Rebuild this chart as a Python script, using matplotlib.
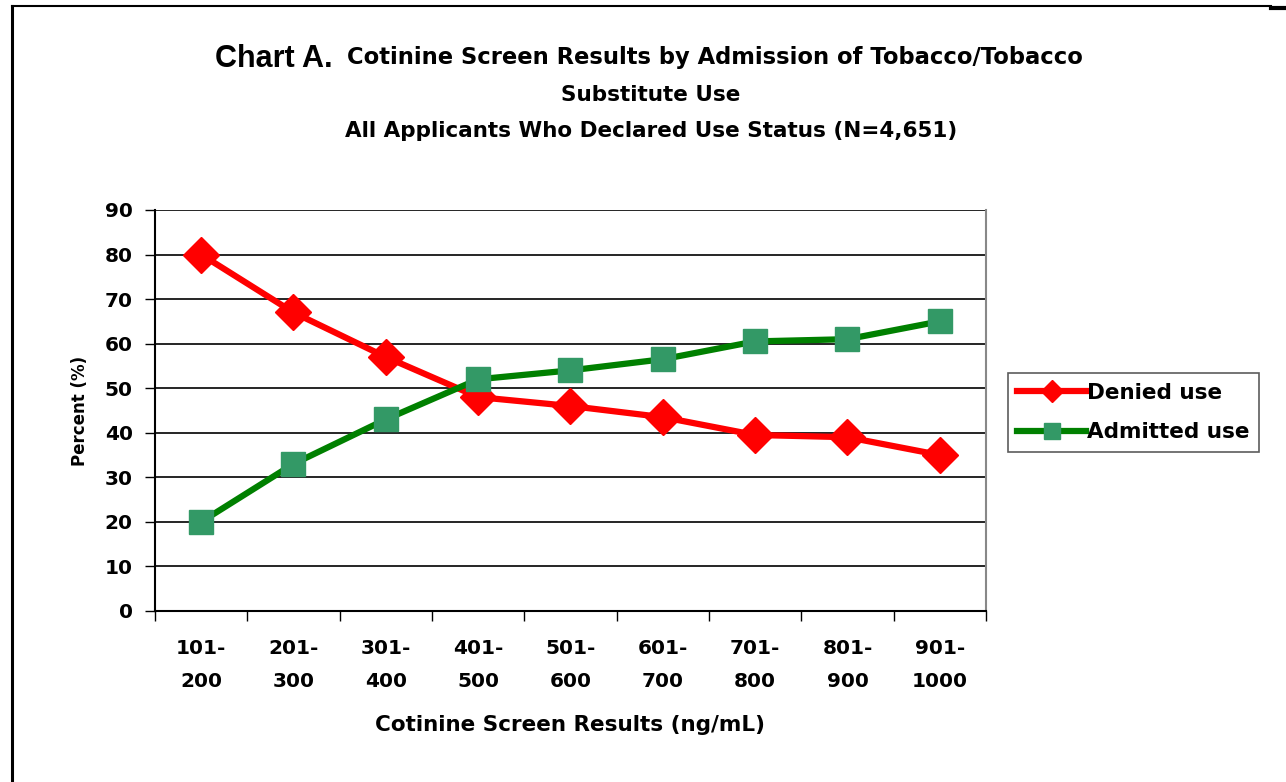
import matplotlib
matplotlib.use("Agg")
import matplotlib.pyplot as plt
from matplotlib.lines import Line2D

plt.rcParams['font.family'] = ['DejaVu Sans']
plt.rcParams['font.weight'] = 'bold'

# data
categories = ['101-\n200', '201-\n300', '301-\n400', '401-\n500', '501-\n600',
              '601-\n700', '701-\n800', '801-\n900', '901-\n1000']
denied = [80, 67, 57, 48, 46, 43.5, 39.5, 39, 35]
admitted = [20, 33, 43, 52, 54, 56.5, 60.5, 61, 65]
yticks = list(range(0, 100, 10))

fig = plt.figure(figsize=(12.86, 7.82), dpi=100)
ax = fig.add_axes([0.1205, 0.2187, 0.6462, 0.5128])

x = list(range(len(categories)))
ax.plot(x, denied, color='#ff0000', lw=4.5, marker='D', ms=18,
        markerfacecolor='#ff0000', markeredgecolor='#ff0000', label='Denied use', zorder=3)
ax.plot(x, admitted, color='#008000', lw=4.5, marker='s', ms=17,
        markerfacecolor='#339966', markeredgecolor='#339966', label='Admitted use', zorder=3)

ax.set_xlim(-0.5, len(categories) - 0.5)
ax.set_ylim(0, 90)
ax.set_yticks(yticks)
ax.set_yticklabels([str(t) for t in yticks], fontsize=14.5, fontweight='bold')
ax.yaxis.grid(True, color='black', lw=1.2)
ax.set_axisbelow(True)

# category ticks between groups, labels at centres
ax.set_xticks([i + 0.5 for i in range(-1, len(categories))])
ax.set_xticklabels([])
ax.tick_params(axis='x', length=7, width=1, direction='out')
ax.set_xticks(x, minor=True)
ax.set_xticklabels(categories, minor=True, fontsize=14.5, fontweight='bold', linespacing=1.95)
ax.tick_params(axis='x', which='minor', length=0, pad=20)
ax.tick_params(axis='y', length=7, width=1, direction='out', pad=9)

ax.spines['top'].set_visible(False)
ax.spines['right'].set_color('#888888')
ax.spines['right'].set_linewidth(1.5)
ax.spines['left'].set_linewidth(1.5)
ax.spines['bottom'].set_linewidth(1.5)

ax.set_ylabel('Percent (%)', fontsize=12, fontweight='bold', labelpad=11)
ax.set_xlabel('Cotinine Screen Results (ng/mL)', fontsize=15.5, fontweight='bold', labelpad=17)

leg = ax.legend(loc='center left', bbox_to_anchor=(1.026, 0.495), fontsize=15.5,
                frameon=True, fancybox=False, edgecolor='#333333', handlelength=3.2,
                handletextpad=0.05, borderpad=0.45, borderaxespad=0, labelspacing=0.9,
                markerscale=0.65)
leg.get_frame().set_linewidth(1.2)

# title
fig.text(0.167, 0.914, 'Chart A.', fontsize=22, fontweight='bold', ha='left', va='baseline',
         family='Liberation Sans')
fig.text(0.556, 0.918, 'Cotinine Screen Results by Admission of Tobacco/Tobacco',
         fontsize=16.3, fontweight='bold', ha='center', va='baseline')
fig.text(0.506, 0.871, 'Substitute Use', fontsize=15.5, fontweight='bold', ha='center', va='baseline')
fig.text(0.506, 0.825, 'All Applicants Who Declared Use Status (N=4,651)',
         fontsize=15.5, fontweight='bold', ha='center', va='baseline')

# outer frame fragments
fig.add_artist(Line2D([0.009, 0.009], [0.0, 0.992], color='black', lw=2.2))
fig.add_artist(Line2D([0.009, 0.988], [0.992, 0.992], color='black', lw=1.5))
fig.add_artist(Line2D([0.988, 1.0], [0.990, 0.990], color='black', lw=3))

fig.savefig('out.png', dpi=100, facecolor='white')
